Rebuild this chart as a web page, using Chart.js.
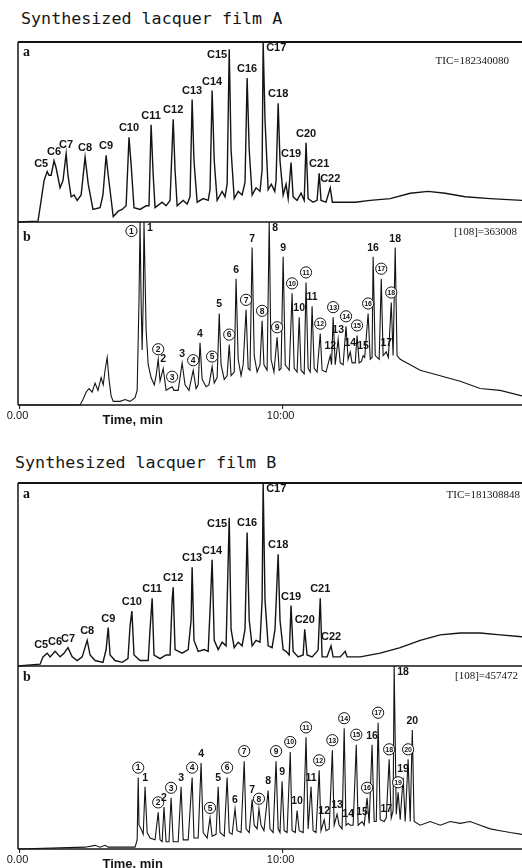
<!DOCTYPE html>
<html>
<head>
<meta charset="utf-8">
<script src="https://cdn.jsdelivr.net/npm/chart.js@4.4.0/dist/chart.umd.min.js"></script>
<style>
  body { margin: 0; background: #fff; width: 522px; height: 868px; overflow: hidden; position: relative; }
  .title { position: absolute; font: 16.7px "DejaVu Sans Mono", monospace; line-height: 20px; color: #161616; white-space: pre; }
  canvas { position: absolute; left: 0; }
</style>
</head>
<body>
<div class="title" style="left:21px; top:8px">Synthesized lacquer film A</div>
<div class="title" style="left:15px; top:452px">Synthesized lacquer film B</div>

<script>
const TIME_MIN = -0.06;
const TIME_MAX = 19.1;
const tickValues = [0, 10];
const tickLabels = ['0.00', '10:00'];

// film A, trace a (TIC), time in min, intensity in %
const filmA_ticTime = [
  -0.06, 0.70, 0.82, 0.93, 1.05, 1.12, 1.20, 1.31, 1.39, 1.54,
  1.65, 1.77, 1.84, 1.96, 2.07, 2.19, 2.34, 2.49, 2.61, 2.79,
  3.06, 3.17, 3.29, 3.37, 3.56, 3.75, 3.90, 4.05, 4.16, 4.24,
  4.35, 4.58, 4.81, 4.92, 5.00, 5.08, 5.15, 5.42, 5.57, 5.72,
  5.84, 5.91, 5.99, 6.22, 6.37, 6.48, 6.56, 6.63, 6.75, 6.98,
  7.17, 7.24, 7.32, 7.40, 7.51, 7.70, 7.81, 7.89, 7.97, 8.04,
  8.16, 8.31, 8.46, 8.57, 8.65, 8.73, 8.84, 8.99, 9.14, 9.22,
  9.26, 9.33, 9.45, 9.57, 9.70, 9.75, 9.83, 9.90, 10.02, 10.13,
  10.21, 10.32, 10.40, 10.55, 10.70, 10.82, 10.89, 10.97, 11.16, 11.31,
  11.39, 11.46, 11.65, 11.81, 11.89, 12.19, 12.76, 13.33, 14.09, 14.85,
  15.53, 16.18, 16.94, 17.89, 19.1
];
const filmA_ticInt = [
  0, 0.5, 12, 23, 28, 26, 26, 34, 30, 19,
  23, 38, 26, 14, 15, 12, 15, 36, 21, 7,
  8, 15, 37, 26, 3, 6, 7, 9, 47, 32,
  8, 7, 9, 9, 54, 26, 8, 11, 9, 12,
  57, 29, 9, 12, 10, 14, 68, 34, 11, 13,
  12, 18, 73, 34, 12, 17, 14, 21, 96, 40,
  13, 17, 15, 22, 80, 40, 15, 19, 17, 29,
  100, 57, 18, 21, 17, 23, 66, 34, 15, 21,
  13, 33, 14, 12, 16, 12, 44, 13, 11, 12,
  27, 12, 11, 19, 11, 11, 11, 12, 13, 16,
  17, 16, 14, 13, 12
];
const filmA_ticPeaks = ['C5', 'C6', 'C7', 'C8', 'C9', 'C10', 'C11', 'C12', 'C13', 'C14', 'C15', 'C16', 'C17', 'C18', 'C19', 'C20', 'C21', 'C22'];
const filmA_ticPeakTimes = [1.05, 1.31, 1.77, 2.49, 3.29, 4.16, 5.00, 5.84, 6.56, 7.32, 7.97, 8.65, 9.26, 9.83, 10.32, 10.89, 11.39, 11.81];

// film A, trace b (m/z 108)
const filmA_m108Time = [
  -0.06, 2.30, 2.41, 2.53, 2.64, 2.76, 2.87, 2.98, 3.10, 3.18,
  3.25, 3.33, 3.40, 3.48, 3.56, 3.82, 4.01, 4.20, 4.39, 4.47,
  4.54, 4.58, 4.62, 4.66, 4.70, 4.73, 4.81, 4.89, 5.00, 5.12,
  5.19, 5.27, 5.34, 5.46, 5.57, 5.68, 5.80, 5.87, 6.03, 6.18,
  6.29, 6.44, 6.60, 6.71, 6.79, 6.86, 6.94, 7.09, 7.20, 7.32,
  7.40, 7.51, 7.59, 7.66, 7.78, 7.89, 7.97, 8.04, 8.16, 8.23,
  8.31, 8.42, 8.50, 8.61, 8.69, 8.76, 8.84, 8.92, 9.03, 9.14,
  9.22, 9.29, 9.41, 9.49, 9.56, 9.67, 9.79, 9.87, 9.94, 10.02,
  10.10, 10.25, 10.36, 10.44, 10.55, 10.63, 10.70, 10.82, 10.89, 10.97,
  11.05, 11.12, 11.20, 11.31, 11.43, 11.50, 11.65, 11.81, 11.86, 11.92,
  12.00, 12.11, 12.19, 12.30, 12.41, 12.49, 12.57, 12.64, 12.76, 12.83,
  12.91, 13.00, 13.06, 13.12, 13.25, 13.33, 13.40, 13.44, 13.52, 13.67,
  13.75, 13.82, 13.94, 14.02, 14.13, 14.20, 14.28, 14.35, 14.47, 14.85,
  15.23, 15.99, 16.75, 17.51, 18.27, 19.1
];
const filmA_m108Int = [
  0, 0, 3, 7, 9, 7, 12, 8, 15, 11,
  19, 26, 14, 5, 2, 2, 3, 2, 4, 8,
  57, 100, 57, 30, 57, 100, 41, 22, 15, 11,
  16, 25, 13, 20, 8, 9, 10, 8, 8, 23,
  11, 8, 19, 9, 11, 34, 14, 10, 11, 21,
  12, 15, 50, 22, 14, 16, 33, 16, 18, 69,
  25, 16, 22, 52, 20, 19, 86, 27, 18, 22,
  46, 22, 19, 100, 25, 18, 37, 19, 20, 81,
  22, 19, 61, 20, 18, 48, 19, 17, 67, 20,
  18, 54, 20, 18, 39, 19, 18, 27, 22, 48,
  22, 36, 23, 22, 43, 25, 29, 23, 23, 38,
  23, 24, 27, 26, 50, 25, 26, 81, 27, 25,
  69, 27, 29, 26, 56, 27, 86, 27, 25, 22,
  19, 16, 13, 9, 8, 5
];
const filmA_m108Peaks = ['①', '1', '②', '2', '③', '3', '④', '4', '⑤', '5', '⑥', '6', '⑦', '7', '⑧', '8', '⑨', '9', '⑩', '10', '⑪', '11', '⑫', '12', '⑬', '13', '⑭', '14', '⑮', '15', '⑯', '16', '⑰', '17', '⑱', '18'];
const filmA_m108PeakTimes = [4.58, 4.73, 5.27, 5.46, 5.80, 6.18, 6.60, 6.86, 7.32, 7.59, 7.97, 8.23, 8.61, 8.84, 9.22, 9.49, 9.79, 10.02, 10.36, 10.63, 10.89, 11.12, 11.43, 11.81, 11.92, 12.11, 12.41, 12.57, 12.83, 13.06, 13.25, 13.44, 13.75, 13.94, 14.13, 14.28];

// film B, trace a (TIC)
const filmB_ticTime = [
  -0.06, 0.78, 0.89, 1.05, 1.16, 1.35, 1.54, 1.69, 1.84, 2.00,
  2.19, 2.38, 2.57, 2.68, 2.87, 3.17, 3.29, 3.37, 3.44, 3.63,
  3.90, 4.12, 4.20, 4.27, 4.35, 4.58, 4.89, 4.96, 5.04, 5.11,
  5.34, 5.57, 5.72, 5.80, 5.84, 5.91, 6.18, 6.41, 6.52, 6.56,
  6.63, 6.79, 7.02, 7.17, 7.24, 7.32, 7.40, 7.55, 7.70, 7.85,
  7.97, 8.04, 8.16, 8.31, 8.46, 8.57, 8.65, 8.73, 8.84, 8.99,
  9.14, 9.22, 9.26, 9.33, 9.45, 9.60, 9.71, 9.83, 9.90, 10.02,
  10.13, 10.25, 10.32, 10.40, 10.59, 10.78, 10.84, 10.93, 11.12, 11.31,
  11.35, 11.43, 11.50, 11.69, 11.84, 11.92, 12.19, 12.38, 12.45, 12.95,
  13.71, 14.47, 15.23, 15.99, 16.75, 17.51, 18.27, 19.1
];
const filmB_ticInt = [
  0, 1, 5, 7, 5, 8, 5, 7, 10, 5,
  3, 5, 14, 6, 3, 2, 9, 21, 6, 3,
  2, 4, 22, 30, 6, 3, 3, 20, 37, 6,
  4, 6, 6, 36, 43, 9, 7, 9, 25, 54,
  14, 8, 9, 8, 30, 58, 14, 9, 13, 11,
  81, 20, 10, 13, 11, 20, 73, 25, 11, 14,
  13, 36, 100, 36, 11, 10, 20, 61, 25, 9,
  8, 6, 33, 8, 5, 6, 20, 6, 5, 8,
  9, 37, 5, 5, 11, 5, 5, 8, 5, 5,
  7, 10, 14, 17, 18, 18, 17, 16
];
const filmB_ticPeaks = ['C5', 'C6', 'C7', 'C8', 'C9', 'C10', 'C11', 'C12', 'C13', 'C14', 'C15', 'C16', 'C17', 'C18', 'C19', 'C20', 'C21', 'C22'];
const filmB_ticPeakTimes = [1.05, 1.35, 1.84, 2.57, 3.37, 4.27, 5.04, 5.84, 6.56, 7.32, 7.97, 8.65, 9.26, 9.83, 10.32, 10.84, 11.43, 11.84];

// film B, trace b (m/z 108)
const filmB_m108Time = [
  -0.06, 2.49, 2.87, 3.06, 3.25, 3.37, 3.63, 4.39, 4.47, 4.51,
  4.54, 4.62, 4.70, 4.77, 4.85, 4.96, 5.15, 5.27, 5.34, 5.42,
  5.49, 5.57, 5.68, 5.76, 5.84, 6.03, 6.14, 6.22, 6.41, 6.56,
  6.63, 6.79, 6.90, 6.98, 7.13, 7.24, 7.32, 7.47, 7.55, 7.62,
  7.78, 7.89, 7.97, 8.08, 8.19, 8.27, 8.42, 8.54, 8.61, 8.73,
  8.84, 8.92, 9.03, 9.10, 9.18, 9.29, 9.45, 9.52, 9.64, 9.75,
  9.83, 9.90, 9.98, 10.06, 10.17, 10.29, 10.36, 10.48, 10.55, 10.63,
  10.78, 10.89, 10.97, 11.08, 11.16, 11.27, 11.39, 11.46, 11.58, 11.65,
  11.77, 11.89, 11.96, 12.07, 12.15, 12.26, 12.34, 12.41, 12.49, 12.57,
  12.68, 12.80, 12.87, 13.02, 13.10, 13.21, 13.29, 13.40, 13.48, 13.56,
  13.63, 13.71, 13.86, 13.94, 14.05, 14.13, 14.20, 14.24, 14.32, 14.39,
  14.47, 14.58, 14.66, 14.77, 14.85, 14.93, 15.00, 15.23, 15.61, 15.99,
  16.37, 16.75, 17.13, 17.51, 17.89, 18.27, 18.65, 19.1
];
const filmB_m108Int = [
  0, 1, 2, 1, 2, 1, 1, 1, 5, 39,
  13, 11, 8, 34, 9, 6, 5, 20, 5, 4,
  23, 4, 4, 28, 4, 4, 34, 5, 5, 39,
  6, 6, 47, 9, 6, 17, 7, 8, 34, 9,
  7, 39, 9, 8, 22, 10, 9, 48, 11, 9,
  27, 13, 11, 22, 13, 10, 32, 11, 9, 48,
  11, 9, 37, 10, 9, 53, 10, 9, 21, 10,
  9, 61, 11, 34, 10, 9, 43, 10, 16, 10,
  11, 54, 13, 19, 13, 11, 66, 13, 14, 13,
  13, 57, 13, 15, 13, 28, 14, 57, 15, 15,
  69, 16, 15, 17, 49, 17, 21, 100, 19, 31,
  16, 39, 15, 49, 15, 65, 15, 13, 15, 13,
  15, 14, 15, 13, 11, 10, 9, 8
];
const filmB_m108Peaks = ['①', '1', '②', '2', '③', '3', '④', '4', '⑤', '5', '⑥', '6', '⑦', '7', '⑧', '8', '⑨', '9', '⑩', '10', '⑪', '11', '⑫', '12', '⑬', '13', '⑭', '14', '⑮', '15', '⑯', '16', '⑰', '17', '⑱', '18', '⑲', '19', '⑳', '20'];
const filmB_m108PeakTimes = [4.51, 4.77, 5.27, 5.49, 5.76, 6.14, 6.56, 6.90, 7.24, 7.55, 7.89, 8.19, 8.54, 8.84, 9.10, 9.45, 9.75, 9.98, 10.29, 10.55, 10.89, 11.08, 11.39, 11.58, 11.89, 12.07, 12.34, 12.49, 12.80, 13.02, 13.21, 13.40, 13.63, 13.94, 14.05, 14.24, 14.39, 14.58, 14.77, 14.93];

const panels = [
  { id: 'chart-1', top: 42, bottom: 222, letter: 'a', letterDy: 10, header: 'TIC=182340080', headerRight: 509, headerDy: 19,
    time: filmA_ticTime, inten: filmA_ticInt, peaks: filmA_ticPeaks, peakTimes: filmA_ticPeakTimes,
    sides: { C5: 'ul', C15: 'l', C17: 'r' }, topLine: 2.2, lineWidth: 1.4, axis: false },
  { id: 'chart-2', top: 222, bottom: 405, letter: 'b', letterDy: 15, header: '[108]=363008', headerRight: 517, headerDy: 10,
    time: filmA_m108Time, inten: filmA_m108Int, peaks: filmA_m108Peaks, peakTimes: filmA_m108PeakTimes,
    sides: { '①': 'l', '1': 'r', '8': 'r' }, topLine: 1.6, lineWidth: 1.1, axis: true },
  { id: 'chart-3', top: 483, bottom: 666, letter: 'a', letterDy: 11, header: 'TIC=181308848', headerRight: 520, headerDy: 12,
    time: filmB_ticTime, inten: filmB_ticInt, peaks: filmB_ticPeaks, peakTimes: filmB_ticPeakTimes,
    sides: { C5: 'ul', C15: 'l', C17: 'r' }, topLine: 2.2, lineWidth: 1.4, axis: false },
  { id: 'chart-4', top: 666, bottom: 849, letter: 'b', letterDy: 11, header: '[108]=457472', headerRight: 518, headerDy: 10,
    time: filmB_m108Time, inten: filmB_m108Int, peaks: filmB_m108Peaks, peakTimes: filmB_m108PeakTimes,
    sides: { '18': 'r' }, topLine: 1.6, lineWidth: 1.1, axis: true }
];

const INK = '#141414';

function strokeLine(ctx, x1, y1, x2, y2) {
  ctx.beginPath();
  ctx.moveTo(x1, y1);
  ctx.lineTo(x2, y2);
  ctx.stroke();
}

function panelDecor(p) {
  return {
    id: 'panelDecor',
    afterDatasetsDraw(chart) {
      const { ctx, chartArea: area } = chart;
      const x = chart.scales.x, y = chart.scales.y;
      ctx.save();
      ctx.strokeStyle = INK;
      ctx.fillStyle = INK;

      // frame
      ctx.lineWidth = p.topLine;
      strokeLine(ctx, area.left, area.top, area.right, area.top);
      ctx.lineWidth = 1.5;
      strokeLine(ctx, area.left, area.top, area.left, area.bottom);

      if (p.axis) {
        strokeLine(ctx, area.left, area.bottom, area.right, area.bottom);
        ctx.lineWidth = 1;
        ctx.font = '11px "Liberation Sans", Arial, sans-serif';
        ctx.textAlign = 'center';
        ctx.textBaseline = 'middle';
        tickValues.forEach((v, i) => {
          const px = x.getPixelForValue(v);
          strokeLine(ctx, px, area.bottom, px, area.bottom + 4);
          ctx.fillText(tickLabels[i], px - 2, area.bottom + 11);
        });
        ctx.font = 'bold 13px "Liberation Sans", Arial, sans-serif';
        ctx.fillText('Time, min', x.getPixelForValue(4.3), area.bottom + 15);
      }

      // panel letter and header
      ctx.textBaseline = 'middle';
      ctx.textAlign = 'left';
      ctx.font = 'bold 14px "Liberation Serif", serif';
      ctx.fillText(p.letter, area.left + 5, area.top + p.letterDy);
      ctx.textAlign = 'right';
      ctx.font = '11px "Liberation Serif", serif';
      ctx.fillText(p.header, p.headerRight, area.top + p.headerDy);

      // peak labels
      p.peaks.forEach((name, k) => {
        const t = p.peakTimes[k];
        let best = 0;
        p.time.forEach((tt, i) => {
          if (Math.abs(tt - t) < Math.abs(p.time[best] - t)) best = i;
        });
        const px = x.getPixelForValue(p.time[best]);
        const py = Math.max(y.getPixelForValue(p.inten[best]), area.top);
        const side = p.sides[name] || 'c';
        const code = name.charCodeAt(0);
        const circled = code >= 0x2460 && code <= 0x2473;

        if (circled) {
          const r = 5.6;
          let cx = px, cy = py - 10;
          if (side === 'l') { cx = px - 3 - r; cy = py + 9; }
          if (side === 'r') { cx = px + 3 + r; cy = py + 9; }
          ctx.beginPath();
          ctx.arc(cx, cy, r, 0, Math.PI * 2);
          ctx.fillStyle = '#fff';
          ctx.fill();
          ctx.lineWidth = 1;
          ctx.stroke();
          ctx.fillStyle = INK;
          const num = String(code - 0x2460 + 1);
          ctx.font = (num.length > 1 ? 'bold 7px' : 'bold 8.5px') + ' "Liberation Sans", Arial, sans-serif';
          ctx.textAlign = 'center';
          ctx.fillText(num, cx, cy + 0.5);
          return;
        }

        ctx.font = name[0] === 'C'
          ? 'bold 11px "Liberation Sans", Arial, sans-serif'
          : 'bold 10.5px "Liberation Sans", Arial, sans-serif';
        if (side === 'l') {
          ctx.textAlign = 'right';
          ctx.fillText(name, px - 2, py + 6);
        } else if (side === 'r') {
          ctx.textAlign = 'left';
          ctx.fillText(name, px + 3, py + 6);
        } else if (side === 'ul') {
          ctx.textAlign = 'right';
          ctx.fillText(name, px + 1, py - 8);
        } else {
          ctx.textAlign = 'center';
          ctx.fillText(name, px, py - 9);
        }
      });
      ctx.restore();
    }
  };
}

const charts = panels.map(p => {
  const padTop = 3;
  const padBottom = p.axis ? 26 : 3;
  const canvas = document.createElement('canvas');
  canvas.id = p.id;
  canvas.width = 522;
  canvas.height = p.bottom - p.top + padTop + padBottom;
  canvas.style.top = (p.top - padTop) + 'px';
  canvas.style.width = '522px';
  canvas.style.height = canvas.height + 'px';
  document.body.appendChild(canvas);

  return new Chart(canvas.getContext('2d'), {
    type: 'line',
    data: {
      datasets: [{
        data: p.time.map((t, i) => ({ x: t, y: p.inten[i] })),
        borderColor: INK,
        borderWidth: p.lineWidth,
        pointRadius: 0,
        tension: 0,
        clip: false
      }]
    },
    options: {
      responsive: false,
      animation: false,
      events: [],
      layout: { padding: { left: 18, right: 0, top: padTop, bottom: padBottom } },
      plugins: {
        legend: { display: false },
        tooltip: { enabled: false }
      },
      scales: {
        x: { type: 'linear', min: TIME_MIN, max: TIME_MAX, display: false },
        y: { min: 0, max: 100, display: false }
      }
    },
    plugins: [panelDecor(p)]
  });
});
</script>
</body>
</html>
